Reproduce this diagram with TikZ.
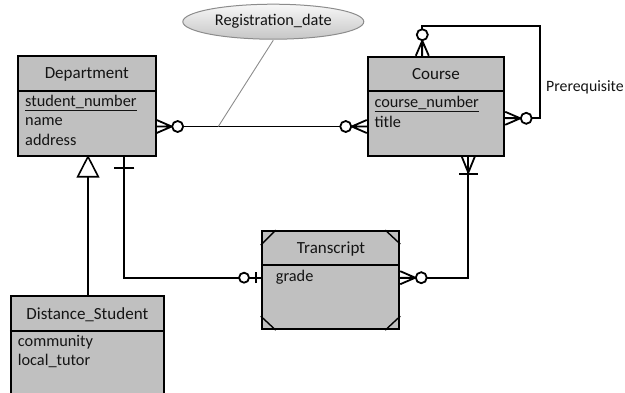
\documentclass[tikz,border=0pt]{standalone}
\usepackage{fontspec}
\setmainfont{Carlito}
\usetikzlibrary{calc,shapes.geometric}

\definecolor{boxgray}{HTML}{C0C0C0}
\definecolor{txt}{HTML}{141414}
\definecolor{attline}{HTML}{8C8C8C}

\tikzset{
  entity/.style={draw=black, line width=1.9pt, fill=boxgray, inner sep=0pt},
  hdr/.style={font=\fontsize{17}{20}\selectfont, text=txt, inner sep=0pt},
  attr/.style={font=\fontsize{16.3}{19}\selectfont, text=txt, anchor=west, inner sep=0pt},
  link/.style={line width=1.8pt, draw=black},
  % zero or many: crow's foot plus open circle
  zm/.pic={
    \draw[link] (0,-6.5) -- (15,0) -- (0,6.5) (0,0) -- (15,0);
    \draw[link, fill=white] (21,0) circle (5.5);
  },
  % one or many: crow's foot plus bar
  om/.pic={
    \draw[link] (0,-6.5) -- (16,0) -- (0,6.5);
    \draw[link] (17,-9.5) -- (17,9.5);
  },
  % exactly one: single bar
  onebar/.pic={
    \draw[link] (11,-10) -- (11,10);
  },
  % zero or one: bar plus open circle
  zo/.pic={
    \draw[link] (4.5,-5.5) -- (4.5,5.5);
    \draw[link, fill=white] (16.7,0) circle (5);
  }
}

\begin{document}
\begin{tikzpicture}[x=1pt, y=-1pt]
\useasboundingbox (0,0) rectangle (625,392);

% Attribute ellipse of the relationship
\node[ellipse, draw=attline, line width=1pt, top color=gray!6, bottom color=gray!45,
      minimum width=181pt, minimum height=35pt, inner sep=0pt] (regdate) at (273.3,21.7) {};
\node[font=\fontsize{16.3}{19}\selectfont, text=txt] (regdatetext) at (regdate.center) {Registration\_date};

% Entities
\node[entity, minimum width=137.7pt, minimum height=99.7pt] (dept) at (86.85,105.85) {};
\node[entity, minimum width=136.6pt, minimum height=99pt] (course) at (436,106.2) {};
\node[entity, minimum width=137.6pt, minimum height=98.2pt] (trans) at (330.5,280.1) {};
\node[entity, minimum width=153.3pt, minimum height=106pt] (dist) at (87.35,349) {};

% Header dividers
\draw[link] (dept.west |- 0,91) -- (dept.east |- 0,91);
\draw[link] (course.west |- 0,90.7) -- (course.east |- 0,90.7);
\draw[link] (trans.west |- 0,265) -- (trans.east |- 0,265);
\draw[link] (dist.west |- 0,331) -- (dist.east |- 0,331);

% Corner cuts of the associative entity
\draw[line width=1.4pt] ($(trans.north west)+(0,15)$) -- ($(trans.north west)+(15,0)$);
\draw[line width=1.4pt] ($(trans.north east)+(-15,0)$) -- ($(trans.north east)+(0,14)$);
\draw[line width=1.4pt] ($(trans.south west)+(0,-14)$) -- ($(trans.south west)+(15,0)$);
\draw[line width=1.4pt] ($(trans.south east)+(-15,0)$) -- ($(trans.south east)+(0,-14)$);

% Entity names
\node[hdr] (deptname) at (86.85,74) {Department};
\node[hdr] (coursename) at (436,74) {Course};
\node[hdr] (transname) at (331,249.3) {Transcript};
\node[hdr] (distname) at (87.35,314.3) {Distance\_Student};

% Attributes
\node[attr] (a1) at (25,103) {\underline{student\_number}};
\node[attr] (a2) at (25,121.7) {name};
\node[attr] (a3) at (25,140) {address};
\node[attr] (a4) at (374.3,104) {\underline{course\_number}};
\node[attr] (a5) at (374.3,121.7) {title};
\node[attr] (a6) at (275.7,277.7) {grade};
\node[attr] (a7) at (17.7,342.3) {community};
\node[attr] (a8) at (17.7,361) {local\_tutor};

% Connection points
\coordinate (dR) at (dept.east |- 0,126.5);
\coordinate (cL) at (course.west |- 0,126.5);
\coordinate (dB) at (dept.south -| 124.3,0);
\coordinate (tL) at (trans.west |- 0,277.7);
\coordinate (cB) at (course.south -| 468.3,0);
\coordinate (tR) at (trans.east |- 0,277.7);
\coordinate (cT) at (course.north -| 422.3,0);
\coordinate (cR) at (course.east |- 0,118.3);
\coordinate (loopA) at (422.3,25.7);
\coordinate (loopB) at (540,25.7);
\coordinate (loopC) at (540,118.3);
\coordinate (gApex) at (dept.south -| 88,0);
\coordinate (gBase) at (88,176.7);
\coordinate (regfoot) at (218.3,126.5);

% Relationship lines
\draw[link] (dR) -- (cL);
\draw[link] (dB) |- (tL);
\draw[link] (cB) |- (tR);
\draw[link] (cT) -- (loopA) -- (loopB) -- (loopC) -- (cR);
\draw[attline, line width=0.9pt] (regdate.south) ++(0,0.5) -- (regfoot);

% Cardinality marks
\pic at (dR) {zm};
\pic[rotate=180] at (cL) {zm};
\pic[rotate=90] at (cT) {zm};
\pic at (cR) {zm};
\pic at (tR) {zm};
\pic[rotate=-90] at (cB) {om};
\pic[rotate=-90] at (dB) {onebar};
\pic[rotate=180] at (tL) {zo};

% Generalization
\draw[link] (gBase) -- (dist.north -| gBase);
\draw[line width=1.6pt, fill=white] (gApex) -- (77.7,176.7) -- (98.3,176.7) -- cycle;

% Relationship name
\node[font=\fontsize{15.8}{19}\selectfont, text=txt, anchor=west, inner sep=0pt] (prereq) at (546,87.3) {Prerequisite};
\end{tikzpicture}
\end{document}
